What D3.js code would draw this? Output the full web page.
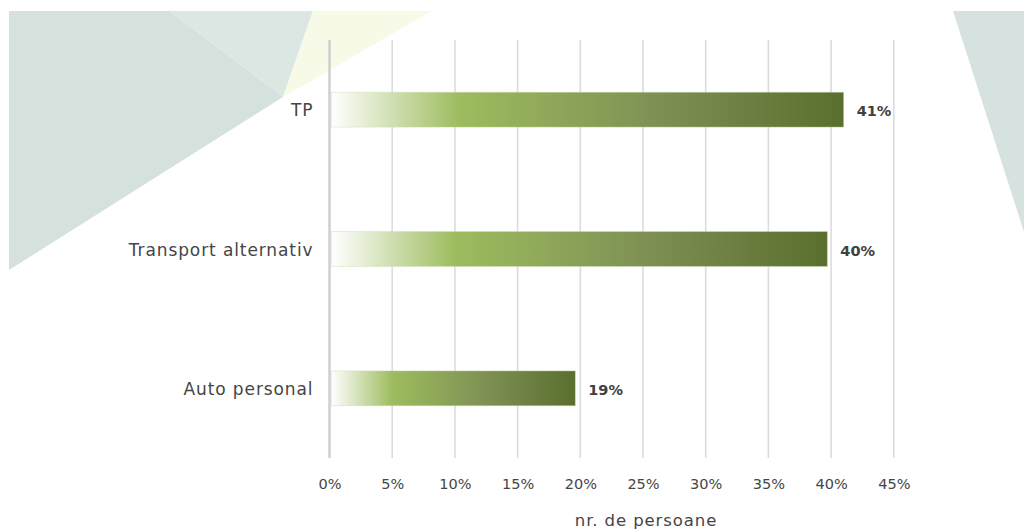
<!DOCTYPE html>
<html><head><meta charset="utf-8">
<script src="https://cdn.jsdelivr.net/npm/d3@7"></script>
<style>body{margin:0;background:#fff;overflow:hidden}svg{display:block}</style>
</head><body>
<svg id="c" width="1024" height="531"></svg>
<script>
const categories = ["TP", "Transport alternativ", "Auto personal"];
const values = [41.0, 39.7, 19.6];
const valueLabels = ["41%", "40%", "19%"];
const ticks = [0, 5, 10, 15, 20, 25, 30, 35, 40, 45];
const axisTitle = "nr. de persoane";

const svg = d3.select("#c");
const font = "'DejaVu Sans', Verdana, sans-serif";

// background decorative shapes
const bg = svg.append("g");
bg.append("polygon").attr("points","9,11 170,11 283,97 9,270").attr("fill","#d5e1dd");
bg.append("polygon").attr("points","170,11 313,11 283,97").attr("fill","#dbe7e3");
bg.append("polygon").attr("points","313,11 432,11 283,97").attr("fill","#f8fae8");
bg.append("polygon").attr("points","953,11 1024,11 1024,232").attr("fill","#d6e2df");

const x = d3.scaleLinear().domain([0, 45]).range([329.5, 893.8]);
const y = d3.scaleBand().domain(categories).range([40, 458]).paddingInner(0.75).paddingOuter(0.375);

const defs = svg.append("defs");
const grad = defs.append("linearGradient").attr("id","g").attr("x1","0").attr("x2","1").attr("y1","0").attr("y2","0");
grad.append("stop").attr("offset","0").attr("stop-color","#ffffff");
grad.append("stop").attr("offset","0.25").attr("stop-color","#9dbc5e");
grad.append("stop").attr("offset","0.62").attr("stop-color","#7f9254");
grad.append("stop").attr("offset","1").attr("stop-color","#5a6e2e");

// gridlines
const grid = svg.append("g");
grid.selectAll("line").data(ticks).join("line")
  .attr("x1", d => x(d)).attr("x2", d => x(d))
  .attr("y1", 40).attr("y2", 458)
  .attr("stroke", d => d === 0 ? "#cfcfcf" : "#dcdcdc")
  .attr("stroke-width", d => d === 0 ? 2.5 : 1.6);

// bars
svg.append("g").selectAll("rect").data(categories).join("rect")
  .attr("x", x(0) + 2)
  .attr("y", d => y(d))
  .attr("width", (d, i) => x(values[i]) - x(0) - 2)
  .attr("height", y.bandwidth())
  .attr("fill", "url(#g)")
  .attr("stroke", "rgba(200,220,170,0.5)")
  .attr("stroke-width", 0.8);

// value labels
svg.append("g").selectAll("text").data(categories).join("text")
  .attr("x", (d, i) => x(values[i]) + 13)
  .attr("y", d => y(d) + y.bandwidth() / 2)
  .attr("dy", "0.45em")
  .attr("font-family", font).attr("font-size", 14.5).attr("font-weight", "bold")
  .attr("fill", "#404040")
  .text((d, i) => valueLabels[i]);

// category labels
svg.append("g").selectAll("text").data(categories).join("text")
  .attr("x", 313.5)
  .attr("y", d => y(d) + y.bandwidth() / 2)
  .attr("dy", "0.4em")
  .attr("text-anchor", "end")
  .attr("font-family", font).attr("font-size", 17)
  .attr("letter-spacing", 0.9)
  .attr("fill", "#454545")
  .text(d => d);

// tick labels via axis
const axis = d3.axisBottom(x).tickValues(ticks).tickFormat(d => d + "%").tickSize(0).tickPadding(0);
const ag = svg.append("g").attr("transform", "translate(0,479)").call(axis);
ag.select(".domain").remove();
ag.selectAll("text").attr("font-family", font).attr("font-size", 14.5).attr("fill", "#454545");

svg.append("text").attr("x", 646).attr("y", 526).attr("text-anchor","middle")
  .attr("font-family", font).attr("font-size", 16.5).attr("letter-spacing", 0.9).attr("fill", "#454545")
  .text(axisTitle);
</script>
</body></html>
